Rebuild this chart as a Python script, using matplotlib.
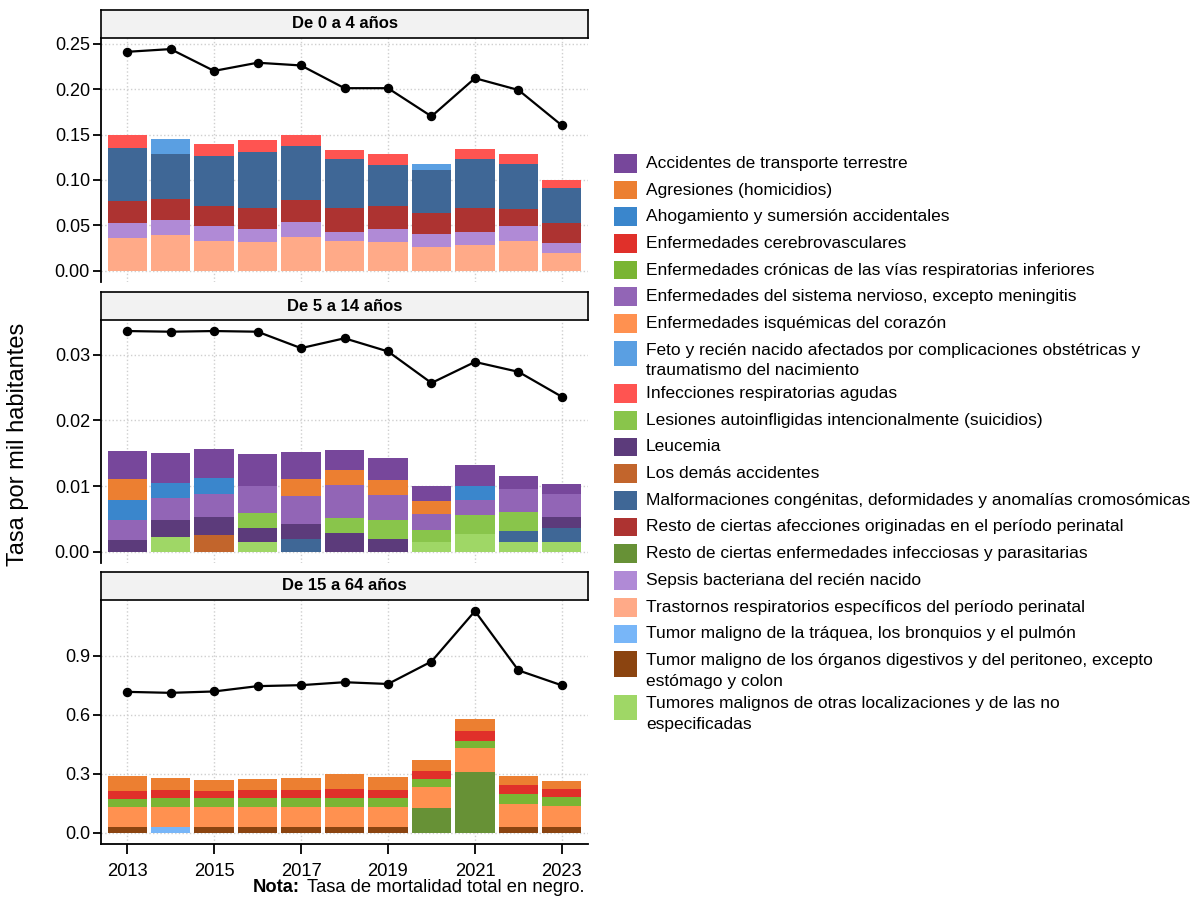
import numpy as np
import matplotlib.pyplot as plt
from matplotlib.patches import Rectangle

plt.rcParams['font.family'] = ['Liberation Sans', 'DejaVu Sans']

years = list(range(2013, 2024))
year_ticks = [2013, 2015, 2017, 2019, 2021, 2023]

# causes in legend order (first one is stacked on top)
causes = [
    "Accidentes de transporte terrestre",
    "Agresiones (homicidios)",
    "Ahogamiento y sumersión accidentales",
    "Enfermedades cerebrovasculares",
    "Enfermedades crónicas de las vías respiratorias inferiores",
    "Enfermedades del sistema nervioso, excepto meningitis",
    "Enfermedades isquémicas del corazón",
    "Feto y recién nacido afectados por complicaciones obstétricas y\ntraumatismo del nacimiento",
    "Infecciones respiratorias agudas",
    "Lesiones autoinfligidas intencionalmente (suicidios)",
    "Leucemia",
    "Los demás accidentes",
    "Malformaciones congénitas, deformidades y anomalías cromosómicas",
    "Resto de ciertas afecciones originadas en el período perinatal",
    "Resto de ciertas enfermedades infecciosas y parasitarias",
    "Sepsis bacteriana del recién nacido",
    "Trastornos respiratorios específicos del período perinatal",
    "Tumor maligno de la tráquea, los bronquios y el pulmón",
    "Tumor maligno de los órganos digestivos y del peritoneo, excepto\nestómago y colon",
    "Tumores malignos de otras localizaciones y de las no\nespecificadas",
]
colors = ["#77479B", "#EC7F31", "#3A86CC", "#E0302A", "#7AB534",
          "#9265B6", "#FF9150", "#5A9FE2", "#FF5451", "#89C54B",
          "#5C3B7B", "#C2652C", "#3F6796", "#AD3331", "#679136",
          "#B08AD6", "#FFAA88", "#78B6F8", "#8B4410", "#9FD766"]

# ---- De 0 a 4 años
p1_trastornos = [0.0362, 0.0395, 0.0326, 0.0318, 0.0370, 0.0330, 0.0315, 0.0267, 0.0289, 0.0330, 0.0194]
p1_sepsis = [0.0168, 0.0165, 0.0168, 0.0139, 0.0168, 0.0102, 0.0150, 0.0143, 0.0139, 0.0164, 0.0113]
p1_resto_perinatal = [0.0235, 0.0234, 0.0219, 0.0235, 0.0245, 0.0260, 0.0252, 0.0227, 0.0264, 0.0186, 0.0220]
p1_malformaciones = [0.0585, 0.0496, 0.0553, 0.0618, 0.0587, 0.0541, 0.0450, 0.0468, 0.0541, 0.0500, 0.0384]
p1_infecciones = [0.0140, 0, 0.0134, 0.0132, 0.0120, 0.0092, 0.0121, 0, 0.0110, 0.0108, 0.0088]
p1_feto = [0, 0.0166, 0, 0, 0, 0, 0, 0.0073, 0, 0, 0]
p1_total = [0.241, 0.244, 0.220, 0.229, 0.226, 0.201, 0.201, 0.170, 0.212, 0.199, 0.160]

# ---- De 5 a 14 años
p2_tumores_otras = [0, 0.00227, 0, 0.00157, 0, 0, 0, 0.00157, 0.00273, 0.00157, 0.00157]
p2_demas_accidentes = [0, 0, 0.00253, 0, 0, 0, 0, 0, 0, 0, 0]
p2_malformaciones = [0, 0, 0, 0, 0.00197, 0, 0, 0, 0, 0.00161, 0.00202]
p2_leucemia = [0.00177, 0.00258, 0.00277, 0.00212, 0.00227, 0.00283, 0.00202, 0, 0, 0, 0.00171]
p2_lesiones = [0, 0, 0, 0.00222, 0, 0.00232, 0.00283, 0.00176, 0.00288, 0.00283, 0]
p2_nervioso = [0.00308, 0.00343, 0.00344, 0.00414, 0.00424, 0.00500, 0.00379, 0.00238, 0.00232, 0.00354, 0.00354]
p2_ahogamiento = [0.00303, 0.00217, 0.00247, 0, 0, 0, 0, 0, 0.00212, 0, 0]
p2_agresiones = [0.00318, 0, 0, 0, 0.00258, 0.00232, 0.00232, 0.00207, 0, 0, 0]
p2_transporte = [0.00434, 0.00460, 0.00440, 0.00490, 0.00419, 0.00309, 0.00333, 0.00227, 0.00318, 0.00202, 0.00156]
p2_total = [0.0336, 0.0335, 0.0336, 0.0335, 0.0310, 0.0325, 0.0305, 0.0257, 0.0289, 0.0274, 0.0236]

# ---- De 15 a 64 años
p3_digestivos = [0.0305, 0, 0.0305, 0.0305, 0.0305, 0.0305, 0.0305, 0, 0, 0.0305, 0.032]
p3_traquea = [0, 0.0305, 0, 0, 0, 0, 0, 0, 0, 0, 0]
p3_resto_infecciosas = [0, 0, 0, 0, 0, 0, 0, 0.127, 0.308, 0, 0]
p3_isquemicas = [0.1015, 0.1035, 0.1015, 0.1035, 0.1035, 0.1035, 0.1015, 0.107, 0.123, 0.1165, 0.104]
p3_cronicas = [0.041, 0.042, 0.043, 0.042, 0.042, 0.042, 0.044, 0.039, 0.038, 0.050, 0.044]
p3_cerebro = [0.042, 0.043, 0.040, 0.044, 0.044, 0.046, 0.041, 0.042, 0.046, 0.044, 0.042]
p3_agresiones = [0.075, 0.059, 0.056, 0.056, 0.060, 0.075, 0.068, 0.056, 0.063, 0.049, 0.039]
p3_total = [0.716, 0.711, 0.718, 0.745, 0.750, 0.765, 0.756, 0.870, 1.126, 0.825, 0.749]

seg1 = {causes[16]: p1_trastornos, causes[15]: p1_sepsis, causes[13]: p1_resto_perinatal,
        causes[12]: p1_malformaciones, causes[8]: p1_infecciones, causes[7]: p1_feto}
seg2 = {causes[19]: p2_tumores_otras, causes[11]: p2_demas_accidentes, causes[12]: p2_malformaciones,
        causes[10]: p2_leucemia, causes[9]: p2_lesiones, causes[5]: p2_nervioso,
        causes[2]: p2_ahogamiento, causes[1]: p2_agresiones, causes[0]: p2_transporte}
seg3 = {causes[18]: p3_digestivos, causes[17]: p3_traquea, causes[14]: p3_resto_infecciosas,
        causes[6]: p3_isquemicas, causes[4]: p3_cronicas, causes[3]: p3_cerebro,
        causes[1]: p3_agresiones}

W, H = 1193, 900
fig = plt.figure(figsize=(W / 100, H / 100), dpi=100)

def fx(px):
    return px / W

def fy(py):
    return 1 - py / H

# (title, segments, total, yticks, fmt, axes top px, axes bottom px)
panels = [
    ("De 0 a 4 años", seg1, p1_total, [0, 0.05, 0.10, 0.15, 0.20, 0.25], "%.2f", 38, 282),
    ("De 5 a 14 años", seg2, p2_total, [0, 0.01, 0.02, 0.03], "%.2f", 320, 563),
    ("De 15 a 64 años", seg3, p3_total, [0, 0.3, 0.6, 0.9], "%.1f", 600, 844),
]
left_px, right_px = 101, 588
strip_h = 28

for i, (title, segs, total, yt, fmt, top, bot) in enumerate(panels):
    ax = fig.add_axes([fx(left_px), fy(bot), fx(right_px - left_px), (bot - top) / H])
    bottom = np.zeros(len(years))
    for c in reversed(causes):
        if c in segs:
            v = np.array(segs[c])
            ax.bar(years, v, width=0.9, bottom=bottom, color=colors[causes.index(c)],
                   linewidth=0, zorder=2)
            bottom += v
    ax.plot(years, total, color='black', lw=1.6, marker='o', ms=5.8, zorder=5)
    ymax = max(total)
    ax.set_ylim(-0.05 * ymax, 1.05 * ymax)
    ax.set_xlim(2012.4, 2023.6)
    ax.set_yticks(yt)
    ax.set_yticklabels([fmt % t for t in yt])
    ax.set_xticks(year_ticks)
    ax.grid(True, color='#CFCFCF', ls=':', lw=1.0)
    ax.set_axisbelow(True)
    for s in ['top', 'right']:
        ax.spines[s].set_visible(False)
    ax.spines['left'].set_linewidth(1.3)
    ax.spines['bottom'].set_linewidth(1.3)
    ax.tick_params(axis='y', labelsize=13, length=6, width=1.3, pad=2, colors='black')
    if i < 2:
        ax.spines['bottom'].set_visible(False)
        ax.tick_params(axis='x', length=0, labelbottom=False)
    else:
        ax.tick_params(axis='x', labelsize=13.2, length=7, width=1.3, pad=7)

    sax = fig.add_axes([fx(left_px), fy(top), fx(right_px - left_px), strip_h / H])
    sax.set_facecolor('#F2F2F2')
    sax.set_xticks([])
    sax.set_yticks([])
    for s in sax.spines.values():
        s.set_linewidth(1.2)
    sax.text(0.5, 0.5, title, ha='center', va='center', fontsize=12, fontweight='bold',
             transform=sax.transAxes)

fig.text(fx(18), fy(444), "Tasa por mil habitantes", rotation=90, ha='center',
         va='center', fontsize=17)
fig.text(fx(253), fy(888), "Nota:", fontweight='bold', fontsize=13.2, ha='left', va='center')
fig.text(fx(307), fy(888), "Tasa de mortalidad total en negro.", fontsize=13.2,
         ha='left', va='center')

# legend
top = 154
for c, col in zip(causes, colors):
    lines = c.split("\n")
    n = len(lines)
    sh = 18.7 if n == 1 else 25.5
    fig.add_artist(Rectangle((fx(614), fy(top + sh)), fx(23), sh / H, facecolor=col,
                             edgecolor='none', transform=fig.transFigure))
    for k, ln in enumerate(lines):
        fig.text(fx(646), fy(top + 9.3 + 20.5 * k), ln, fontsize=12.5, ha='left',
                 va='center')
    top += 26.7 if n == 1 else 43.3

fig.savefig("out.png", dpi=100)
